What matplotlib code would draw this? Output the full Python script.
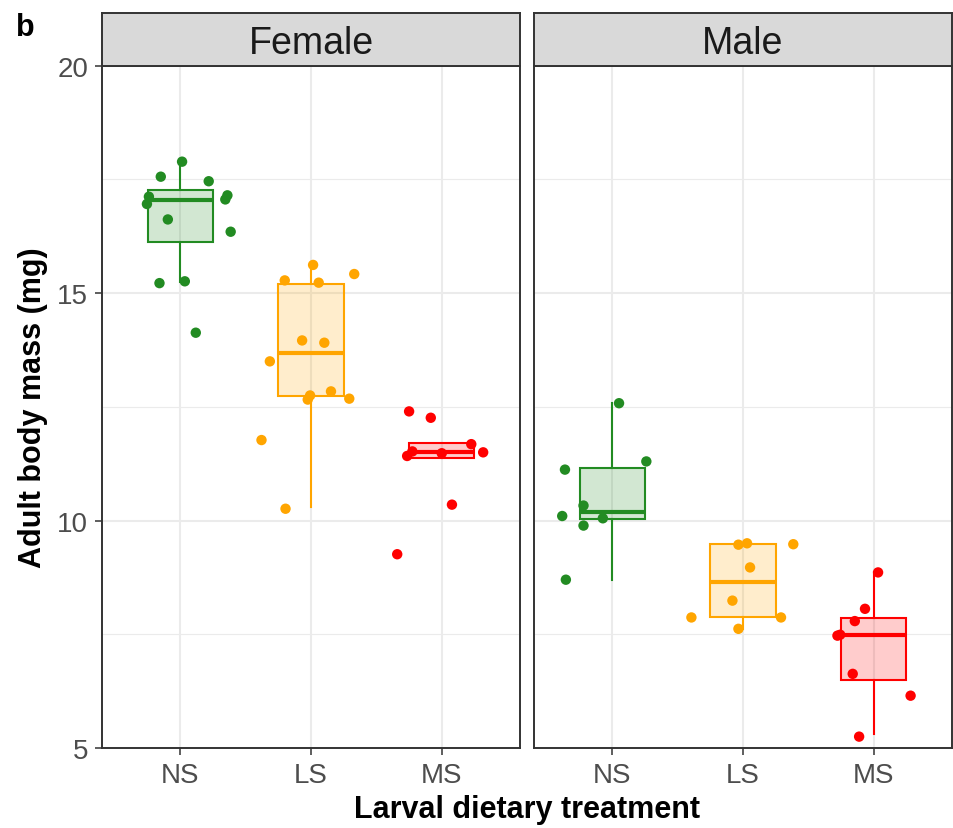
import matplotlib
matplotlib.use("Agg")
import matplotlib.pyplot as plt
import numpy as np

plt.rcParams['font.family'] = ['Liberation Sans', 'DejaVu Sans']

# ---------------- data ----------------
sexes = ["Female", "Male"]
treatments = ["NS", "LS", "MS"]
colors = {"NS": "#228B22", "LS": "#FFA500", "MS": "#FF0000"}

# box statistics (lower whisker, Q1, median, Q3, upper whisker)
female_whislo = [15.24, 10.29, 11.40]
female_q1 = [16.12, 12.73, 11.38]
female_med = [17.05, 13.69, 11.50]
female_q3 = [17.26, 15.19, 11.70]
female_whishi = [17.89, 15.67, 11.70]

male_whislo = [8.70, 7.62, 5.31]
male_q1 = [10.04, 7.89, 6.50]
male_med = [10.18, 8.65, 7.49]
male_q3 = [11.15, 9.49, 7.86]
male_whishi = [12.58, 9.49, 8.86]

# individual points (mass, mg) with horizontal jitter offsets
female_NS_mass = [17.89, 17.56, 17.46, 17.12, 16.96, 17.15, 17.06, 16.62, 16.35, 15.22, 15.26, 14.13]
female_NS_jit = [0.013, -0.150, 0.217, -0.241, -0.256, 0.360, 0.344, -0.096, 0.385, -0.160, 0.034, 0.118]
female_LS_mass = [15.62, 15.42, 15.28, 15.23, 13.96, 13.91, 13.50, 12.84, 12.75, 12.66, 12.68, 11.77, 10.26]
female_LS_jit = [0.016, 0.331, -0.201, 0.059, -0.068, 0.102, -0.315, 0.153, -0.007, -0.025, 0.293, -0.379, -0.195]
female_MS_mass = [12.40, 12.26, 11.68, 11.50, 11.52, 11.42, 11.48, 10.35, 9.26]
female_MS_jit = [-0.249, -0.083, 0.227, 0.318, -0.224, -0.264, 0.001, 0.079, -0.340]

male_NS_mass = [12.58, 11.30, 11.12, 10.33, 10.10, 10.05, 9.89, 8.70]
male_NS_jit = [0.051, 0.260, -0.363, -0.221, -0.384, -0.073, -0.221, -0.356]
male_LS_mass = [9.47, 9.50, 9.48, 8.97, 8.24, 7.87, 7.87, 7.62]
male_LS_jit = [-0.035, 0.031, 0.385, 0.054, -0.081, -0.395, 0.291, -0.035]
male_MS_mass = [8.86, 8.06, 7.79, 7.49, 7.47, 6.63, 6.15, 5.25]
male_MS_jit = [0.034, -0.066, -0.144, -0.256, -0.277, -0.160, 0.283, -0.111]

y_ticks = [5, 10, 15, 20]
y_minor = [7.5, 12.5, 17.5]

panel_data = {
    "Female": dict(whislo=female_whislo, q1=female_q1, med=female_med, q3=female_q3, whishi=female_whishi,
                   pts=[(female_NS_mass, female_NS_jit), (female_LS_mass, female_LS_jit), (female_MS_mass, female_MS_jit)]),
    "Male": dict(whislo=male_whislo, q1=male_q1, med=male_med, q3=male_q3, whishi=male_whishi,
                 pts=[(male_NS_mass, male_NS_jit), (male_LS_mass, male_LS_jit), (male_MS_mass, male_MS_jit)]),
}

# ---------------- figure ----------------
W, H = 954, 829
fig = plt.figure(figsize=(W / 100, H / 100), dpi=100)

def fx(px):
    return px / W

def fy(py):
    return 1 - py / H

panel_left = {"Female": 102, "Male": 534}
panel_w = 418
panel_top, panel_bot = 66.7, 749
strip_top = 13.5

border_col = "#333333"
grid_col = "#EBEBEB"

for si, sex in enumerate(sexes):
    L = panel_left[sex]
    ax = fig.add_axes([fx(L), fy(panel_bot), panel_w / W, (panel_bot - panel_top) / H])
    sax = fig.add_axes([fx(L), fy(panel_top), panel_w / W, (panel_top - strip_top) / H])

    d = panel_data[sex]
    ax.set_xlim(0.4, 3.6)
    ax.set_ylim(5, 20)
    ax.set_facecolor("white")

    # grid
    for yv in y_minor:
        ax.axhline(yv, color=grid_col, lw=0.8, zorder=0)
    for yv in y_ticks:
        ax.axhline(yv, color=grid_col, lw=1.5, zorder=0)
    for xv in range(1, 4):
        ax.axvline(xv, color=grid_col, lw=1.5, zorder=0)

    stats = []
    for i in range(3):
        stats.append(dict(whislo=d["whislo"][i], q1=d["q1"][i], med=d["med"][i],
                          q3=d["q3"][i], whishi=d["whishi"][i], fliers=[]))
    bp = ax.bxp(stats, positions=[1, 2, 3], widths=0.5, patch_artist=True,
                showfliers=False, showcaps=False, manage_ticks=False)
    for i, t in enumerate(treatments):
        c = colors[t]
        box = bp["boxes"][i]
        box.set_facecolor(matplotlib.colors.to_rgba(c, 0.2))
        box.set_edgecolor(c)
        box.set_linewidth(1.5)
        box.set_zorder(2)
        bp["medians"][i].set_color(c)
        bp["medians"][i].set_linewidth(3.0)
        bp["medians"][i].set_zorder(3)
        bp["medians"][i].set_solid_capstyle("butt")
        for w in bp["whiskers"][2 * i:2 * i + 2]:
            w.set_color(c)
            w.set_linewidth(1.5)
            w.set_zorder(2)

    for i, t in enumerate(treatments):
        mass, jit = d["pts"][i]
        xs = np.array(jit) + (i + 1)
        ax.scatter(xs, mass, s=56, color=colors[t], edgecolors="none", zorder=4)

    ax.set_xticks([1, 2, 3])
    ax.set_xticklabels(treatments)
    ax.set_yticks(y_ticks)
    if si == 0:
        ax.set_yticklabels([str(v) for v in y_ticks])
    else:
        ax.set_yticklabels([])
    ax.tick_params(axis="both", labelsize=20, labelcolor="#4D4D4D", color=border_col,
                   length=5, width=1.1, pad=5)
    if si == 1:
        ax.tick_params(axis="y", length=0)
    for sp in ax.spines.values():
        sp.set_color(border_col)
        sp.set_linewidth(1.4)

    # strip
    sax.set_facecolor("#D9D9D9")
    sax.set_xticks([])
    sax.set_yticks([])
    for sp in sax.spines.values():
        sp.set_color(border_col)
        sp.set_linewidth(1.4)
    sax.text(0.5, 0.43, sex, transform=sax.transAxes, ha="center", va="center",
             fontsize=27, color="#1A1A1A")

fig.text(fx((102 + 952) / 2), fy(810), "Larval dietary treatment", ha="center", va="center",
         fontsize=22, fontweight="bold", color="black")
fig.text(fx(33), fy((panel_top + panel_bot) / 2), "Adult body mass (mg)", ha="center", va="center",
         rotation=90, fontsize=22, fontweight="bold", color="black")
fig.text(fx(16), fy(13), "b", ha="left", va="top", fontsize=22, fontweight="bold", color="black")

fig.savefig("out.png", dpi=100)
